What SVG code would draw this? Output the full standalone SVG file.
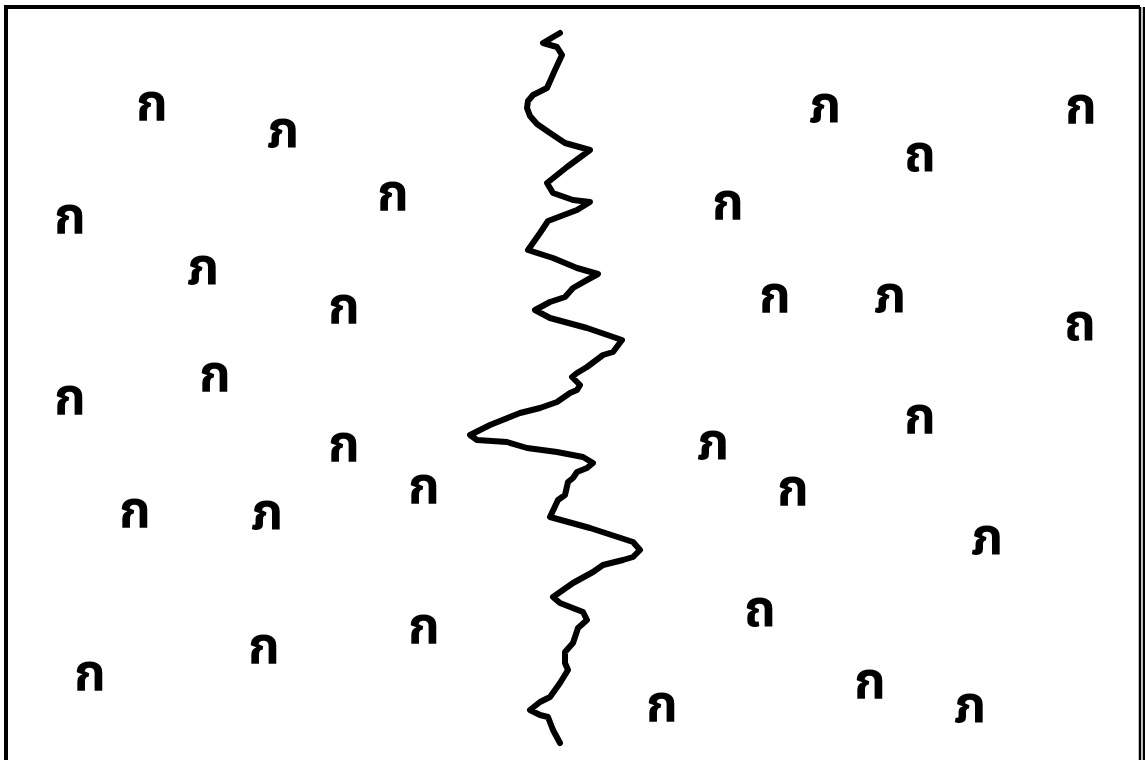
<svg xmlns="http://www.w3.org/2000/svg" width="1145" height="760" viewBox="0 0 1145 760">
<style>
.b{stroke:#000;fill:none}
.t{font-family:"Noto Sans Thai","Noto Sans","DejaVu Sans",sans-serif;font-weight:bold;font-size:51px;fill:#000;text-anchor:middle}
</style>
<rect width="1145" height="760" fill="#fff"/>
<g id="border">
<path class="b" d="M6 760 V7 H1140" stroke-width="4"/>
<path class="b" d="M1140 7 V760" stroke-width="2.5"/>
<path class="b" d="M1144 7 V760" stroke-width="2.5"/>
</g>
<g id="connectors">
<path class="b" stroke-width="6" stroke-linecap="round" stroke-linejoin="round" d="M560 33 L543 43 L557 47 L562 55 L555 70 L547 88 L533 95 L528 101 L527 108 L530 116 L537 124 L550 133 L565 143 L590 150 L567 167 L557 175 L547 183 L553 193 L573 200 L590 202 L577 210 L548 221 L540 233 L528 250 L553 258 L577 268 L598 274 L587 280 L573 288 L565 297 L550 302 L535 310 L550 318 L587 328 L622 340 L613 352 L603 355 L587 367 L577 373 L572 377 L580 385 L577 390 L570 393 L557 402 L540 408 L520 413 L490 425 L470 435 L477 440 L507 442 L527 448 L557 452 L583 457 L593 463 L587 468 L577 472 L573 478 L568 482 L565 495 L558 500 L550 517 L590 528 L633 542 L640 550 L633 557 L623 560 L603 565 L593 572 L573 583 L553 597 L560 603 L583 612 L587 620 L578 628 L573 643 L565 652 L565 663 L568 670 L560 683 L550 697 L540 702 L530 710 L540 715 L548 717 L553 730 L560 743"/>
</g>
<g id="left">
<text class="t" x="152" y="120">ก</text>
<text class="t" x="283" y="147">ภ</text>
<text class="t" x="70" y="233">ก</text>
<text class="t" x="393" y="210">ก</text>
<text class="t" x="203" y="284">ภ</text>
<text class="t" x="344" y="323">ก</text>
<text class="t" x="215" y="391">ก</text>
<text class="t" x="70" y="414">ก</text>
<text class="t" x="344" y="461">ก</text>
<text class="t" x="424" y="503">ก</text>
<text class="t" x="135" y="527">ก</text>
<text class="t" x="267" y="529">ภ</text>
<text class="t" x="424" y="643">ก</text>
<text class="t" x="264" y="663">ก</text>
<text class="t" x="90" y="690">ก</text>
</g>
<g id="right">
<text class="t" x="825" y="122">ภ</text>
<text class="t" x="1081" y="123">ก</text>
<text class="t" x="920" y="171">ถ</text>
<text class="t" x="728" y="219">ก</text>
<text class="t" x="775" y="312">ก</text>
<text class="t" x="890" y="312">ภ</text>
<text class="t" x="1080" y="340">ถ</text>
<text class="t" x="920" y="433">ก</text>
<text class="t" x="713" y="459">ภ</text>
<text class="t" x="793" y="505">ก</text>
<text class="t" x="987" y="554">ภ</text>
<text class="t" x="760" y="626">ถ</text>
<text class="t" x="870" y="698">ก</text>
<text class="t" x="662" y="721">ก</text>
<text class="t" x="970" y="722">ภ</text>
</g>
</svg>
